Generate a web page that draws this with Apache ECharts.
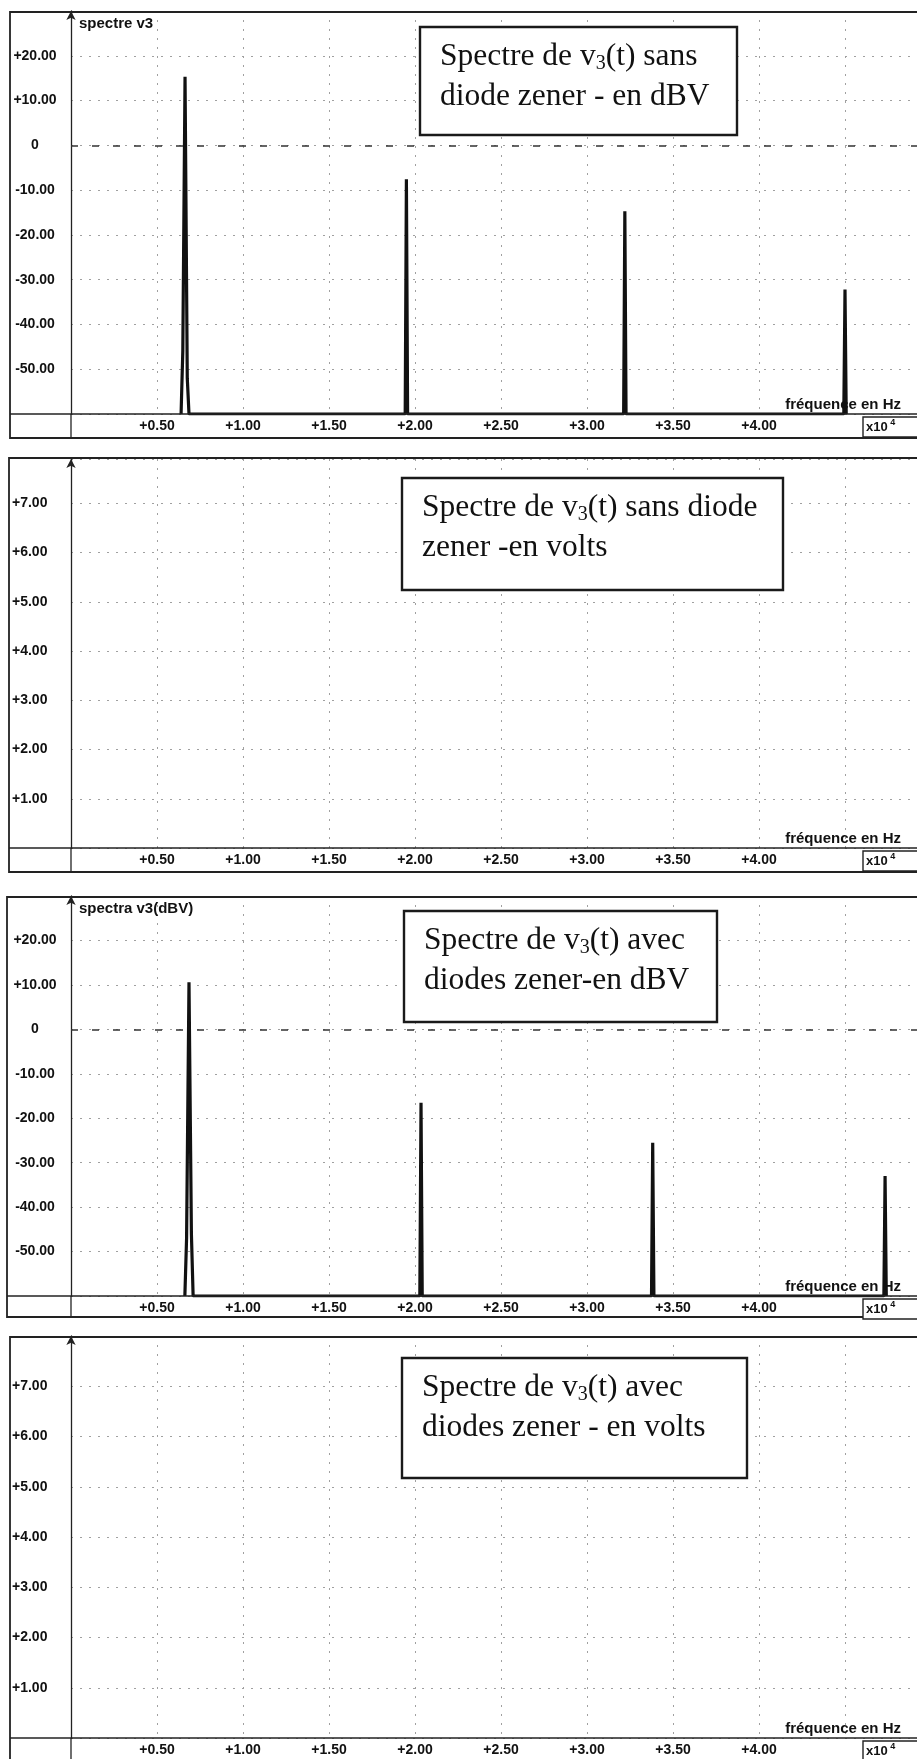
<!DOCTYPE html>
<html><head><meta charset="utf-8">
<script src="https://cdn.jsdelivr.net/npm/echarts@6/dist/echarts.min.js"></script>
<style>html,body{margin:0;padding:0;background:#fff}#c{width:917px;height:1759px}</style>
</head><body><div id="c"></div>
<script>
// ---------- data ----------
// x axis: frequency (x10^4 Hz)
const xTickValues = [0.5, 1.0, 1.5, 2.0, 2.5, 3.0, 3.5, 4.0];
const xTickLabels = ['+0.50', '+1.00', '+1.50', '+2.00', '+2.50', '+3.00', '+3.50', '+4.00'];
// y axis in dBV
const dbTickValues = [20, 10, 0, -10, -20, -30, -40, -50];
const dbTickLabels = ['+20.00', '+10.00', '0', '-10.00', '-20.00', '-30.00', '-40.00', '-50.00'];
// y axis in volts
const vTickValues = [7, 6, 5, 4, 3, 2, 1];
const vTickLabels = ['+7.00', '+6.00', '+5.00', '+4.00', '+3.00', '+2.00', '+1.00'];

// spectrum of v3(t) without zener diode (dBV), spectrum points (freq x10^4 Hz, level dBV)
const sansFreq = [0.640, 0.650, 0.663, 0.676, 0.686, 1.943, 1.950, 1.957, 3.213, 3.220, 3.227, 4.493, 4.500, 4.507];
const sansDb   = [-60, -46, 15.3, -52, -60, -60, -7.6, -60, -60, -14.7, -60, -60, -32.2, -60];
// spectrum of v3(t) with zener diodes (dBV)
const avecFreq = [0.662, 0.672, 0.686, 0.700, 0.710, 2.028, 2.035, 2.042, 3.375, 3.382, 3.389, 4.726, 4.733, 4.740];
const avecDb   = [-60, -47, 10.6, -46, -60, -60, -16.5, -60, -60, -25.5, -60, -60, -33, -60];
// volts panels: no visible lines
const sansVFreq = [];
const sansVVal = [];
const avecVFreq = [];
const avecVVal = [];

const panelTitles = ['spectre v3', '', 'spectra v3(dBV)', ''];
const notes = [
  [['Spectre de v', '3', '(t) sans'], ['diode zener - en dBV']],
  [['Spectre de v', '3', '(t) sans diode'], ['zener -en volts']],
  [['Spectre de v', '3', '(t) avec'], ['diodes zener-en dBV']],
  [['Spectre de v', '3', '(t) avec'], ['diodes zener - en volts']]
];
const xAxisName = 'fréquence en Hz';

// ---------- layout ----------
const W = 917;
const AX = 71;
const panels = [
  {box: [10, 12, 438], gridTop: 11, axisY: 414, yMin: -60, yMax: 30, kind: 'db', freq: sansFreq, val: sansDb,
   note: [420, 27, 317, 108]},
  {box: [9, 458, 872], gridTop: 459, axisY: 848, yMin: 0, yMax: 7.9, kind: 'v', freq: sansVFreq, val: sansVVal,
   note: [402, 478, 381, 112]},
  {box: [7, 897, 1317], gridTop: 896, axisY: 1296, yMin: -60, yMax: 30, kind: 'db', freq: avecFreq, val: avecDb,
   note: [404, 911, 313, 111]},
  {box: [10, 1337, 1800], gridTop: 1336, axisY: 1738, yMin: 0, yMax: 8, kind: 'v', freq: avecVFreq, val: avecVVal,
   note: [402, 1358, 345, 120]}
];

function lookup(values, labels) {
  return function (v) {
    for (let i = 0; i < values.length; i++) if (Math.abs(values[i] - v) < 1e-6) return labels[i];
    return '';
  };
}
function pairs(xs, ys) { return xs.map((x, i) => [x, ys[i]]); }

const grids = [], xAxes = [], yAxes = [], series = [], graphics = [];
const xMax = (W - AX) / 172;
const FONT = '"Liberation Sans", Arial, sans-serif';
const SERIF = '"Liberation Serif", "Times New Roman", serif';

panels.forEach((p, i) => {
  grids.push({left: AX, top: p.gridTop, width: W - AX, height: p.axisY - p.gridTop, outerBoundsMode: 'none', containLabel: false});
  xAxes.push({
    type: 'value', gridIndex: i, min: 0, max: xMax, interval: 0.5,
    axisLine: {show: false}, axisTick: {show: false},
    axisLabel: {formatter: lookup(xTickValues, xTickLabels), color: '#111', fontFamily: FONT, fontWeight: 'bold', fontSize: 14, margin: 5, showMaxLabel: false},
    splitLine: {show: true, lineStyle: {color: '#a0a0a0', width: 1, type: [2, 7]}}
  });
  const isDb = p.kind === 'db';
  yAxes.push({
    type: 'value', gridIndex: i, min: p.yMin, max: p.yMax, interval: isDb ? 10 : 1,
    axisLine: {show: true, symbol: ['none', 'arrow'], symbolSize: [7, 9], lineStyle: {color: '#222', width: 1.3}},
    axisTick: {show: false},
    axisLabel: isDb
      ? {formatter: lookup(dbTickValues, dbTickLabels), color: '#111', fontFamily: FONT, fontWeight: 'bold', fontSize: 14, align: 'center', margin: 36}
      : {formatter: lookup(vTickValues, vTickLabels), color: '#111', fontFamily: FONT, fontWeight: 'bold', fontSize: 14, align: 'left', margin: 59},
    splitLine: {show: true, lineStyle: {color: '#a0a0a0', width: 1, type: [2, 7]}}
  });
  series.push({
    type: 'line', xAxisIndex: i, yAxisIndex: i, data: pairs(p.freq, p.val),
    symbol: 'none', lineStyle: {color: '#111', width: 3.2, join: 'bevel'}, animation: false, silent: true,
    markLine: isDb ? {silent: true, symbol: 'none', label: {show: false},
      lineStyle: {color: '#333', width: 1.7, type: [7, 14]}, data: [{yAxis: 0}]} : undefined
  });

  // panel frame
  const [bl, bt, bb] = p.box;
  graphics.push({type: 'rect', shape: {x: bl, y: bt, width: W - bl + 20, height: bb - bt},
    style: {fill: null, stroke: '#222', lineWidth: 1.8}, z: 10});
  graphics.push({type: 'line', shape: {x1: bl, y1: p.axisY, x2: W, y2: p.axisY},
    style: {stroke: '#222', lineWidth: 1.5}, z: 10});
  graphics.push({type: 'line', shape: {x1: AX, y1: p.axisY, x2: AX, y2: bb},
    style: {stroke: '#222', lineWidth: 1.3}, z: 10});
  // x10^4 box
  graphics.push({type: 'rect', shape: {x: 863, y: p.axisY + 3, width: 70, height: 20},
    style: {fill: '#fff', stroke: '#222', lineWidth: 1.4}, z: 11});
  graphics.push({type: 'text', x: 866, y: p.axisY + 13, z: 12,
    style: {text: '{a|x10}{b| 4}', verticalAlign: 'middle', rich: {
      a: {fontFamily: FONT, fontWeight: 'bold', fontSize: 13, fill: '#111'},
      b: {fontFamily: FONT, fontWeight: 'bold', fontSize: 9, fill: '#111', padding: [0, 0, 8, 0]}}}});
  // axis name
  graphics.push({type: 'text', x: 901, y: p.axisY - 9, z: 12,
    style: {text: xAxisName, align: 'right', verticalAlign: 'middle', fontFamily: FONT, fontWeight: 'bold', fontSize: 15, fill: '#111'}});
  // panel title
  if (panelTitles[i]) {
    graphics.push({type: 'text', x: 79, y: bt + 12, z: 12,
      style: {text: panelTitles[i], verticalAlign: 'middle', fontFamily: FONT, fontWeight: 'bold', fontSize: 15, fill: '#111'}});
  }
  // annotation box
  const [nx, ny, nw, nh] = p.note;
  graphics.push({type: 'rect', shape: {x: nx, y: ny, width: nw, height: nh},
    style: {fill: '#fff', stroke: '#1a1a1a', lineWidth: 2.4}, z: 13});
  const n = notes[i];
  const txt = n.map(line => line.length === 3 ? '{t|' + line[0] + '}{s|' + line[1] + '}{t|' + line[2] + '}' : '{t|' + line[0] + '}').join('\n');
  graphics.push({type: 'text', x: nx + 20, y: ny + 10, z: 14,
    style: {text: txt, verticalAlign: 'top', rich: {
      t: {fontFamily: SERIF, fontSize: 31.5, lineHeight: 40, fill: '#111'},
      s: {fontFamily: SERIF, fontSize: 20, fill: '#111', padding: [13, 0, 0, 0]}}}});
});

const chart = echarts.init(document.getElementById('c'), null, {renderer: 'canvas', width: 917, height: 1759});
chart.setOption({
  animation: false,
  backgroundColor: '#fff',
  grid: grids, xAxis: xAxes, yAxis: yAxes, series: series, graphic: graphics
});
</script>
</body></html>
